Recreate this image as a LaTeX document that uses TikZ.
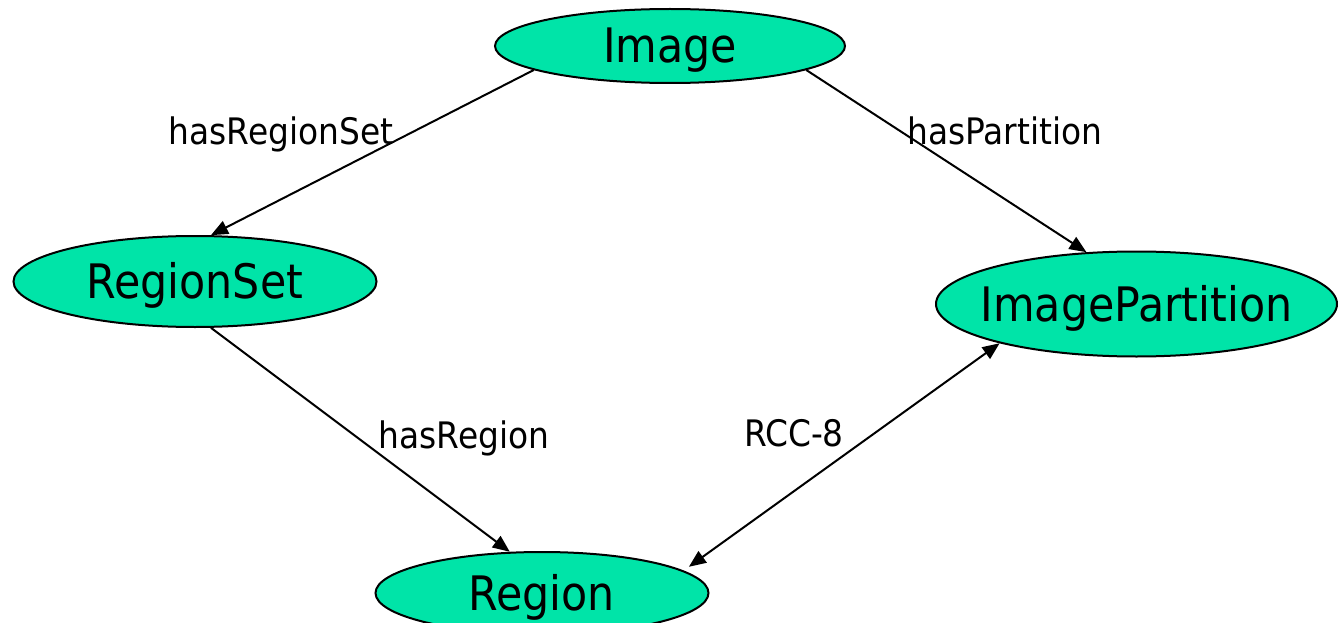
\documentclass[tikz,border=0pt]{standalone}
\usepackage{fontspec}
\setmainfont{DejaVu Sans Condensed}
\usetikzlibrary{shapes.geometric,arrows.meta}
\definecolor{mint}{RGB}{0,228,168}
\tikzset{
  ell/.style={ellipse, draw=black, line width=2pt, fill=mint, inner sep=-60pt,
    font=\fontsize{47.5}{52}\selectfont, text height=34pt, text depth=0pt},
  conn/.style={line width=2pt, -{Triangle[length=17pt,width=14pt]}},
  lbl/.style={font=\fontsize{36.5}{40}\selectfont, anchor=base, inner sep=0pt}
}
\begin{document}
\begin{tikzpicture}[x=1pt,y=-1pt]
\useasboundingbox (0,0) rectangle (1338,623);
\node[ell, minimum width=350pt, minimum height=74pt] (img) at (670,46) {Image};
\node[ell, minimum width=363pt, minimum height=91pt] (rs) at (195,281.5) {RegionSet};
\node[ell, minimum width=401pt, minimum height=105pt] (ip) at (1136.5,304) {ImagePartition};
\node[ell, minimum width=333pt, minimum height=82pt] (reg) at (542,593) {Region};

\draw[conn] (img.190.5) -- (rs.71.4);
\draw[conn] (img.-10.5) -- (ip.134.2);
\draw[conn] (rs.-71.8) -- (reg.128);
\draw[conn, {Triangle[length=17pt,width=14pt]}-{Triangle[length=17pt,width=14pt]}, shorten >=6.5pt] (ip.196.5) -- (reg.9);

\node[lbl] (l1) at (281,145) {hasRegionSet};
\node[lbl] (l2) at (1005,145) {hasPartition};
\node[lbl] (l3) at (464,448) {hasRegion};
\node[lbl] (l4) at (794,446) {RCC-8};
\end{tikzpicture}
\end{document}
